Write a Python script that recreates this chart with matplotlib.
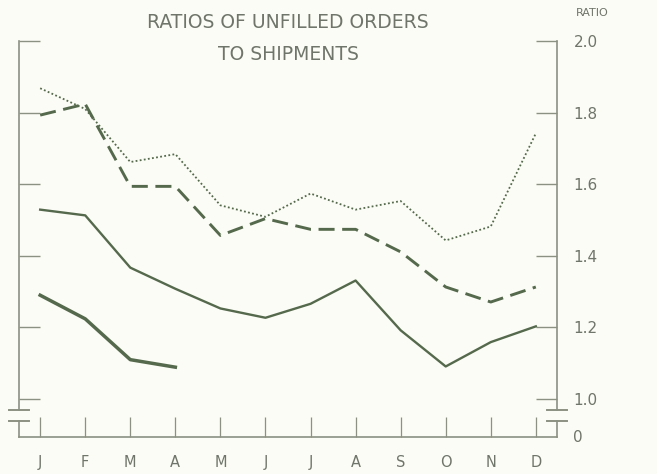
import numpy as np
import matplotlib.pyplot as plt

# months and series
months = ["J", "F", "M", "A", "M", "J", "J", "A", "S", "O", "N", "D"]
x = np.arange(12)

dotted_vals = [1.868, 1.81, 1.662, 1.684, 1.541, 1.509, 1.574, 1.529, 1.553, 1.443, 1.482, 1.742]
dashed_vals = [1.793, 1.824, 1.594, 1.594, 1.457, 1.504, 1.474, 1.474, 1.411, 1.313, 1.271, 1.313]
solid_vals = [1.529, 1.513, 1.367, 1.308, 1.253, 1.227, 1.266, 1.331, 1.192, 1.091, 1.159, 1.203]
thick_vals = [1.290, 1.224, 1.110, 1.089]

ytick_vals = [1.0, 1.2, 1.4, 1.6, 1.8, 2.0]
ytick_labels = ["1.0", "1.2", "1.4", "1.6", "1.8", "2.0"]

BG = "#fbfcf5"
LINE = "#55694c"
AXC = "#8b9183"
TXT = "#6f756a"

fig = plt.figure(figsize=(6.57, 4.74), dpi=100, facecolor=BG)
ax = fig.add_axes([19 / 657, 1 - 437 / 474, 538 / 657, 396 / 474])
ax.set_facecolor(BG)

ax.plot(x, dotted_vals, color=LINE, lw=1.3, linestyle=(0, (1, 1.3)))
ax.plot(x, dashed_vals, color=LINE, lw=2.1, linestyle=(0, (5.5, 2.6)))
ax.plot(x, solid_vals, color=LINE, lw=1.7)
ax.plot(x[:len(thick_vals)], thick_vals, color=LINE, lw=2.5)

y_bottom = 0.894
ax.set_xlim(-0.47, 11.47)
ax.set_ylim(y_bottom, 2.0)

for s in ["top", "left", "right"]:
    ax.spines[s].set_visible(False)
ax.spines["bottom"].set_color(AXC)
ax.spines["bottom"].set_linewidth(1.2)

# side axes with breaks
brk_hi, brk_lo = 0.969, 0.938
tr = ax.get_yaxis_transform()
for xa in (0, 1):
    ax.plot([xa, xa], [2.0, brk_hi], color=AXC, lw=1.2, transform=tr, clip_on=False)
    ax.plot([xa, xa], [brk_lo, y_bottom], color=AXC, lw=1.2, transform=tr, clip_on=False)
    for yb in (brk_hi, brk_lo):
        ax.plot([xa - 0.018, xa + 0.018], [yb, yb], color=AXC, lw=1.4,
                transform=tr, clip_on=False)

ax.set_xticks(x)
ax.set_xticklabels(months)
ax.tick_params(axis="x", direction="in", length=14.5, width=0.9, color=AXC,
               labelcolor=TXT, labelsize=10.5, pad=13)

ax.set_yticks(ytick_vals)
ax.set_yticklabels(ytick_labels)
ax.tick_params(axis="y", direction="in", length=15, width=1.0, color=AXC,
               left=True, right=True, labelleft=False, labelright=True,
               labelcolor=TXT, labelsize=11, pad=12)

ax.text(1.03, y_bottom, "0", transform=tr, color=TXT, fontsize=11, va="center", ha="left")

fig.text(288 / 657, 1 - 22 / 474, "RATIOS OF UNFILLED ORDERS", ha="center", va="center",
         color=TXT, fontsize=13.5)
fig.text(288 / 657, 1 - 55 / 474, "TO SHIPMENTS", ha="center", va="center",
         color=TXT, fontsize=13.5)
fig.text(592 / 657, 1 - 13 / 474, "RATIO", ha="center", va="center", color=TXT, fontsize=8)

fig.savefig("out.png", dpi=100, facecolor=BG)
